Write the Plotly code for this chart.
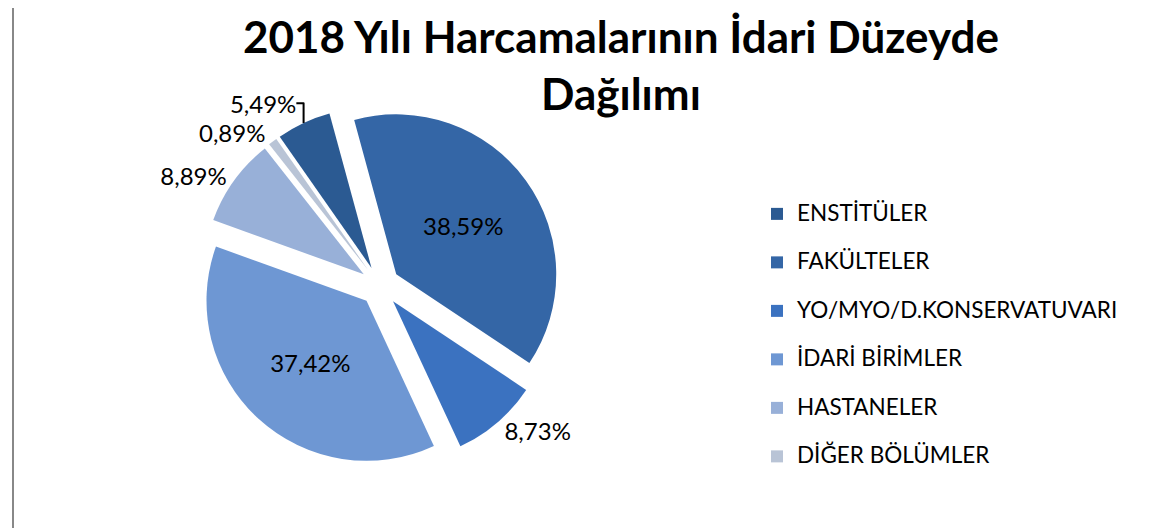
import plotly.graph_objects as go

# data (2018 harcamalari, idari duzey dagilimi, %)
categories = ["ENSTİTÜLER", "FAKÜLTELER", "YO/MYO/D.KONSERVATUVARI",
              "İDARİ BİRİMLER", "HASTANELER", "DİĞER BÖLÜMLER"]
shares = [5.49, 38.59, 8.73, 37.42, 8.89, 0.89]
colors = ["#2b5a92", "#3466a6", "#3b72c0", "#6e97d3", "#98b0d8", "#b9c4d6"]
text_pos = ["outside", "inside", "outside", "inside", "outside", "outside"]

# legend entries: bigger text, extra blank line for the wide spacing
legend_labels = ['<span style="font-size:22.5px">%s</span><br>\u00a0' % c for c in categories]

pie = go.Pie(
    labels=legend_labels,
    values=shares,
    sort=False,
    direction="clockwise",
    rotation=-35,
    pull=0.125,
    marker=dict(colors=colors, line=dict(width=0)),
    texttemplate="%{value:.2f}%",
    textposition=text_pos,
    textfont=dict(family="Lato", size=24, color="black"),
    insidetextorientation="horizontal",
    domain=dict(x=[192 / 1150, 552 / 1150], y=[1 - 458 / 528, 1 - 98 / 528]),
    hovertemplate="%{label}: %{value:.2f}%<extra></extra>",
)

fig = go.Figure(pie)
fig.update_layout(
    width=1150, height=528,
    margin=dict(l=0, r=0, t=0, b=0),
    paper_bgcolor="white",
    separators=",.",
    font=dict(family="Lato", color="black"),
    title=dict(
        text='<span style="font-size:44px">2018 Yılı Harcamalarının İdari Düzeyde</span><br>'
             '<span style="font-size:44px">Dağılımı</span>',
        font=dict(family="Lato", size=44, color="black", weight="bold"),
        x=0.533, xanchor="center", y=0.915, yanchor="top",
    ),
    legend=dict(
        x=749 / 1150, xanchor="left", y=1 - 188 / 528, yanchor="top",
        valign="top",
        font=dict(family="Lato", size=17.5, color="black"),
        bgcolor="rgba(0,0,0,0)",
    ),
    shapes=[dict(type="rect", xref="paper", yref="paper",
                 x0=5 / 1150, y0=2 / 528, x1=1.02, y1=1.02,
                 line=dict(color="#888888", width=2))],
)

fig.write_html("out.html")
